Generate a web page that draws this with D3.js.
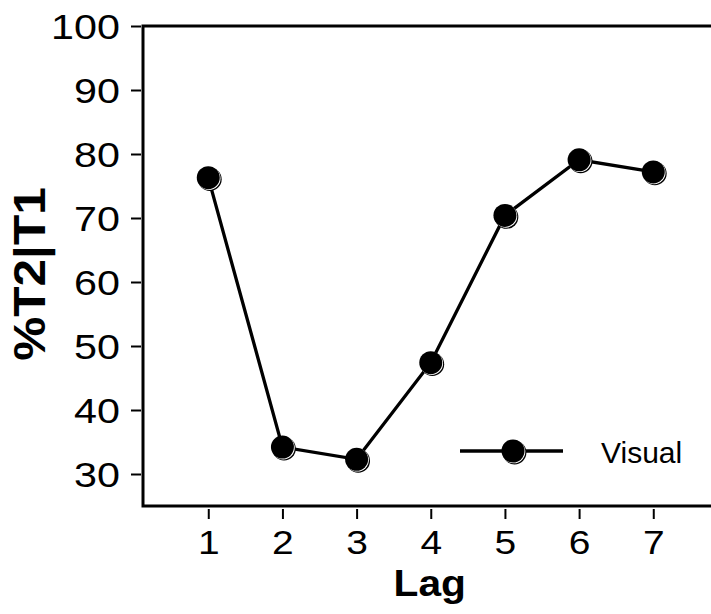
<!DOCTYPE html>
<html>
<head>
<meta charset="utf-8">
<script src="https://cdn.jsdelivr.net/npm/d3@7"></script>
<style>
  html, body { margin: 0; padding: 0; background: #fff; }
  svg { display: block; }
  text { font-family: "Liberation Sans", Arial, Helvetica, sans-serif; fill: #000; }
</style>
</head>
<body>
<svg id="chart" width="711" height="614"></svg>
<script>
// Percent of T2 detected given T1, per lag
const lags = [1, 2, 3, 4, 5, 6, 7];
const visual = [76.3, 34.2, 32.3, 47.4, 70.4, 79.1, 77.2];
const yTicks = [30, 40, 50, 60, 70, 80, 90, 100];
const seriesName = "Visual";
const xTitle = "Lag";
const yTitle = "%T2|T1";

const svg = d3.select("#chart");

const x = d3.scaleLinear().domain([0.12, 7.8]).range([143, 712.6]);
const y = d3.scaleLinear().domain([25, 100]).range([506, 26]);

// Widen tick labels around their anchor point
function widen(sel, sx) {
  sel.each(function () {
    const t = d3.select(this);
    const tx = +t.attr("x") || 0;
    const ty = +t.attr("y") || 0;
    t.attr("x", 0).attr("y", 0)
     .attr("transform", `translate(${tx},${ty}) scale(${sx},1)`);
  });
}

// Frame: left, top and bottom edges
svg.append("path")
  .attr("d", `M${x.range()[1] + 5},${y(100)} H${x(x.domain()[0])} V${y(25)} H${x.range()[1] + 5}`)
  .attr("stroke", "#000").attr("stroke-width", 3).attr("fill", "none")
  .attr("stroke-linecap", "square");

// Y axis ticks and labels
const yAxis = svg.append("g")
  .attr("transform", "translate(141,0)")
  .call(d3.axisLeft(y).tickValues(yTicks).tickSize(10).tickPadding(11).tickSizeOuter(0));
yAxis.select(".domain").remove();
yAxis.selectAll(".tick line").attr("stroke-width", 2);
yAxis.selectAll(".tick text").attr("font-size", 35).attr("dy", "0.36em");
widen(yAxis.selectAll(".tick text"), 1.18);

// X axis ticks and labels
const xAxis = svg.append("g")
  .attr("transform", "translate(0,509)")
  .call(d3.axisBottom(x).tickValues(lags).tickFormat(d3.format("d")).tickSize(10).tickPadding(12).tickSizeOuter(0));
xAxis.select(".domain").remove();
xAxis.selectAll(".tick line").attr("stroke-width", 2);
xAxis.selectAll(".tick text").attr("font-size", 33);
widen(xAxis.selectAll(".tick text"), 1.18);

// Axis titles
svg.append("text")
  .attr("transform", `translate(${x(4) - 1},596) scale(1.1,1)`)
  .attr("text-anchor", "middle")
  .attr("font-size", 37).attr("font-weight", "bold")
  .text(xTitle);

svg.append("text")
  .attr("transform", `translate(45,274) rotate(-90) scale(1.1,1)`)
  .attr("text-anchor", "middle")
  .attr("font-size", 45).attr("font-weight", "bold")
  .text(yTitle);

// Marker with a small offset outline
function marker(g, cx, cy) {
  g.append("circle").attr("cx", cx + 1.6).attr("cy", cy + 1.6).attr("r", 11.8).attr("fill", "#000");
  g.append("circle").attr("cx", cx + 0.8).attr("cy", cy + 0.8).attr("r", 11.5).attr("fill", "#fff");
  g.append("circle").attr("cx", cx).attr("cy", cy).attr("r", 11.5).attr("fill", "#000");
}

const data = lags.map((l, i) => ({ lag: l, value: visual[i] }));

svg.append("path")
  .datum(data)
  .attr("fill", "none")
  .attr("stroke", "#000")
  .attr("stroke-width", 3.3)
  .attr("d", d3.line().x(d => x(d.lag)).y(d => y(d.value)));

const pts = svg.append("g");
data.forEach(d => marker(pts, x(d.lag), y(d.value)));

// Legend
const legend = svg.append("g");
legend.append("line")
  .attr("x1", 460).attr("x2", 563).attr("y1", 451).attr("y2", 451)
  .attr("stroke", "#000").attr("stroke-width", 3.3);
marker(legend, 513, 451);
legend.append("text")
  .attr("x", 601).attr("y", 463)
  .attr("font-size", 30)
  .text(seriesName);
</script>
</body>
</html>
